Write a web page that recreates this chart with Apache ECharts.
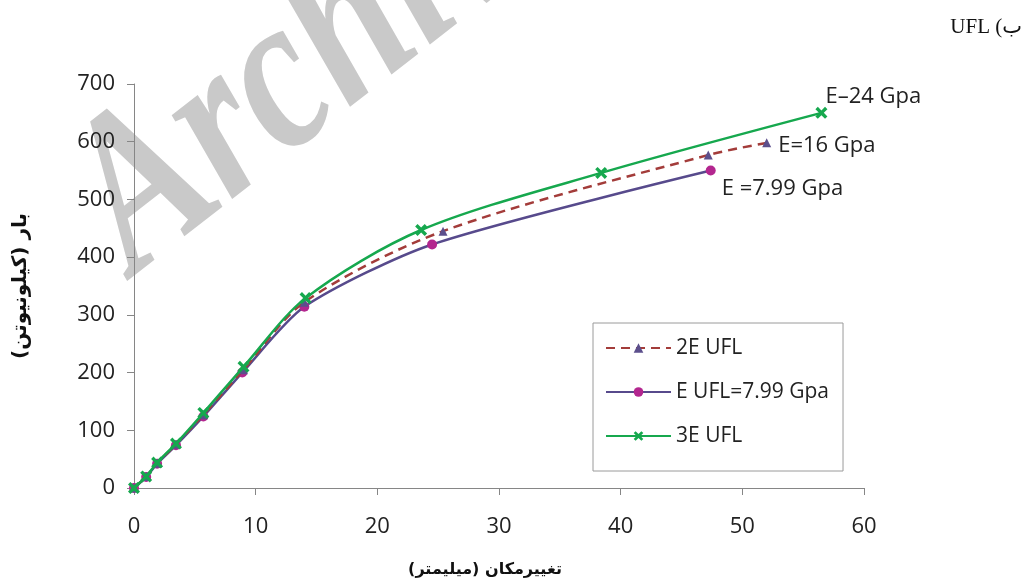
<!DOCTYPE html>
<html>
<head>
<meta charset="utf-8">
<script src="https://cdn.jsdelivr.net/npm/echarts@6/dist/echarts.min.js"></script>
<style>html,body{margin:0;padding:0;background:#fff}#c{width:1026px;height:583px}</style>
</head>
<body>
<div id="c"></div>
<script>
// ---- data ----
var seriesNames = ['2E UFL', 'E UFL=7.99 Gpa', '3E UFL'];
var endLabels = ['E=16 Gpa', 'E =7.99 Gpa', 'E\u201324 Gpa'];

var x2E = [0, 1.0, 1.9, 3.45, 5.7, 9.0, 14.0, 25.4, 47.2, 52.0];
var y2E = [0, 20, 43, 76, 127, 205, 322, 445, 577, 598];

var xE = [0, 1.0, 1.9, 3.45, 5.7, 8.9, 14.0, 24.5, 47.4];
var yE = [0, 19, 42, 74, 124, 200, 314, 422, 550];

var x3E = [0, 1.0, 1.9, 3.45, 5.7, 9.0, 14.1, 23.6, 38.4, 56.5];
var y3E = [0, 20, 44, 77, 130, 210, 329, 447, 546, 650];

var xTicks = [0, 10, 20, 30, 40, 50, 60];
var yTicks = [0, 100, 200, 300, 400, 500, 600, 700];

var xTitle = 'تغییرمکان (میلیمتر)\u200F';
var yTitle = 'بار (کیلونیوتن)\u200F';
var cornerText = 'UFL (ب';
var watermark = 'Archive';

// ---- build ----
function pairs(xs, ys, label) {
  return xs.map(function (x, i) {
    var item = { value: [x, ys[i]] };
    if (i === xs.length - 1 && label) item.label = label;
    return item;
  });
}
var txtFont = '"Open Sans", Lato, sans-serif';
var crossPath = 'path://M2,0 L5,3 L8,0 L10,2 L7,5 L10,8 L8,10 L5,7 L2,10 L0,8 L3,5 L0,2 Z';

var chart = echarts.init(document.getElementById('c'), null, { renderer: 'canvas' });
chart.setOption({
  animation: false,
  backgroundColor: '#ffffff',
  graphic: [
    {
      type: 'text', z: -10, zlevel: 0,
      x: 168, y: 318, rotation: 38 * Math.PI / 180, scaleX: 0.8, scaleY: 1,
      style: { text: watermark, font: 'italic bold 225px "Liberation Serif", serif',
               fill: '#c9c9c9', align: 'left', verticalAlign: 'bottom' }
    },
    {
      type: 'text', right: 4, top: 17,
      style: { text: cornerText, font: '21px "Liberation Serif", "DejaVu Sans", serif', fill: '#111' }
    }
  ],
  grid: { left: 134, right: 162, top: 84, bottom: 89, containLabel: false },
  legend: {
    orient: 'vertical',
    left: 593, top: 323,
    data: seriesNames,
    backgroundColor: '#fff',
    borderColor: '#9a9a9a', borderWidth: 1,
    padding: [13, 14, 23, 12],
    itemWidth: 65, itemHeight: 12, itemGap: 20,
    textStyle: { fontFamily: txtFont, fontSize: 21, color: '#222', lineHeight: 24 }
  },
  xAxis: {
    type: 'value', min: xTicks[0], max: xTicks[xTicks.length - 1], interval: 10,
    name: xTitle, nameLocation: 'middle', nameGap: 74,
    nameTextStyle: { fontFamily: '"DejaVu Sans"', fontWeight: 'bold', fontSize: 16, color: '#111', padding: [0, 28, 0, 0] },
    axisLine: { lineStyle: { color: '#868686', width: 1 } },
    axisTick: { show: true, length: 7, lineStyle: { color: '#868686' } },
    axisLabel: { fontFamily: txtFont, fontSize: 22, color: '#222', margin: 28 },
    splitLine: { show: false }
  },
  yAxis: {
    type: 'value', min: yTicks[0], max: yTicks[yTicks.length - 1], interval: 100,
    name: yTitle, nameLocation: 'middle', nameGap: 103,
    nameTextStyle: { fontFamily: '"DejaVu Sans"', fontWeight: 'bold', fontSize: 20, color: '#111' },
    axisLine: { show: true, lineStyle: { color: '#868686', width: 1 } },
    axisTick: { show: true, length: 7, lineStyle: { color: '#868686' } },
    axisLabel: { fontFamily: txtFont, fontSize: 22, color: '#222', margin: 19 },
    splitLine: { show: false }
  },
  series: [
    {
      name: seriesNames[0], type: 'line', smooth: 0.3, z: 3,
      data: pairs(x2E, y2E, { show: true, formatter: endLabels[0], position: 'right', distance: 7, offset: [0, 3],
        fontFamily: txtFont, fontSize: 22, color: '#222' }),
      lineStyle: { color: '#a33c3a', width: 2.5, type: [9, 6] },
      symbol: 'triangle', symbolSize: 9,
      itemStyle: { color: '#5c4f8c' }
    },
    {
      name: seriesNames[1], type: 'line', smooth: 0.25, z: 2,
      data: pairs(xE, yE, { show: true, formatter: endLabels[1], position: 'right', distance: 6, offset: [0, 18],
        fontFamily: txtFont, fontSize: 22, color: '#222' }),
      lineStyle: { color: '#574a8c', width: 2.5 },
      symbol: 'circle', symbolSize: 10,
      itemStyle: { color: '#b3268f' }
    },
    {
      name: seriesNames[2], type: 'line', smooth: 0.3, z: 4,
      data: pairs(x3E, y3E, { show: true, formatter: endLabels[2], position: 'right', distance: 0, offset: [-2, -16],
        fontFamily: txtFont, fontSize: 22, color: '#222' }),
      lineStyle: { color: '#16a84e', width: 2.5 },
      symbol: crossPath, symbolSize: 12,
      itemStyle: { color: '#16a84e' }
    }
  ]
});
</script>
</body>
</html>
